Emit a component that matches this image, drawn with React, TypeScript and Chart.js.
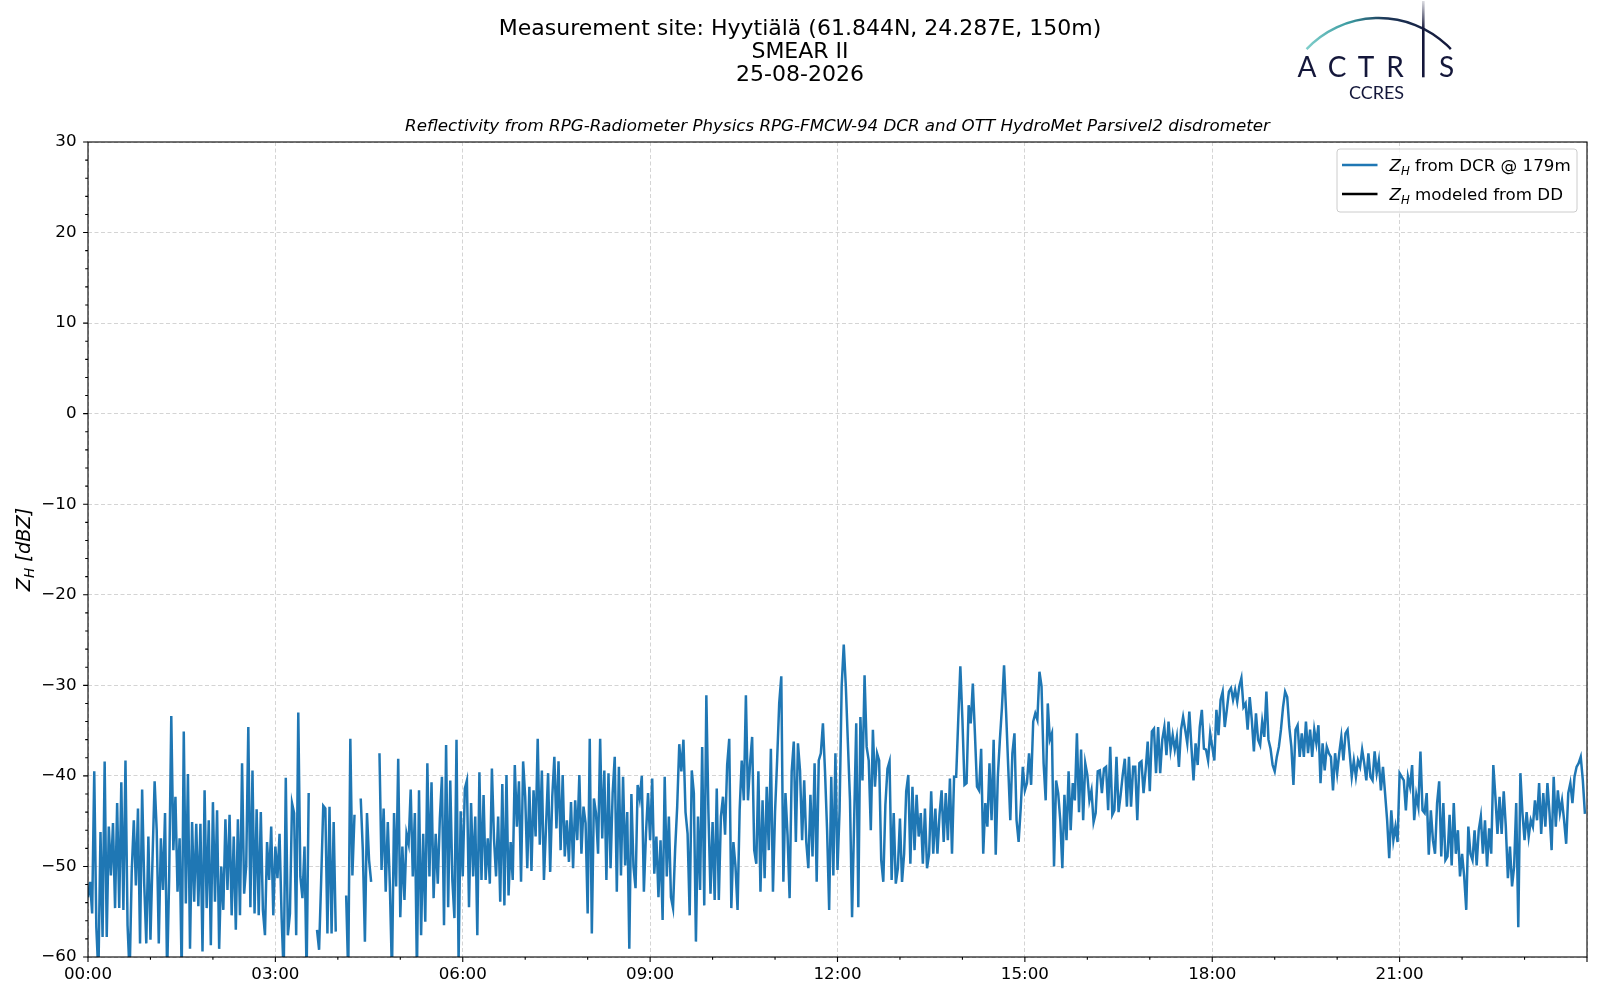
import React, { useEffect, useRef } from "react";
import Chart from "chart.js/auto";

// DCR reflectivity sampled every STEP_MIN minutes from 00:00 (null = no data)
const STEP_MIN = 2;

const xTickLabels = ["00:00", "03:00", "06:00", "09:00", "12:00", "15:00", "18:00", "21:00"];
const titleLines = ["Measurement site: Hyytiälä (61.844N, 24.287E, 150m)", "SMEAR II", "25-08-2026"];
const subtitle = "Reflectivity from RPG-Radiometer Physics RPG-FMCW-94 DCR and OTT HydroMet Parsivel2 disdrometer";
const legendLabels = [" from DCR @ 179m", " modeled from DD"];

const zhDcr0003 = [
  -53.4, -51.7, -55.2, -39.5, -56.7, -62, -46.2, -57.8, -38.4, -57.8, -45.6, -51.0, -45.2, -54.6, -43.0,
  -54.6, -40.7, -54.8, -38.3, -56.5, -62, -50.6, -44.9, -52.1, -43.6, -58.5, -41.5, -51.9, -58.5, -46.7,
  -58.1, -49.1, -40.6, -46.0, -58.5, -46.9, -52.6, -44.1, -62, -51.1, -33.4, -48.2, -42.3, -52.8, -46.9,
  -62, -35.1, -54.1, -39.8, -59.1, -45.1, -53.9, -45.3, -54.4, -45.3, -59.4, -41.6, -54.6, -44.9, -58.7,
  -42.9, -53.9, -43.8, -59.1, -50.0, -54.8, -44.8, -52.6, -44.3, -55.4, -46.7, -57.0, -44.8, -55.4, -38.6,
  -53.0, -49.9, -34.6, -54.5, -39.4, -55.2, -43.7, -55.4, -44.0, -54.8, -57.6, -47.3, -51.5, -45.6, -55.4,
];
const zhDcr0306 = [
  -47.8, -51.3, -46.4, -55.7, -62, -40.2, -57.6, -55.2, -43.0, -44.1, -57.6, -33.0, -51.1, -53.5, -47.8,
  -62, -41.9, null, null, null, -57.0, -59.2, -51.5, -43.3, -43.6, -57.4, -43.4, -57.4, -45.1, -57.2,
  null, null, null, null, -53.2, -62, -35.9, -51.0, -44.3, null, null, -42.5, -48.2, -58.3, -44.1,
  -49.3, -51.7, null, null, null, -37.5, -50.4, -43.6, -52.8, -45.1, -52.2, -62, -44.1, -52.2, -38.1,
  -55.6, -47.8, -53.7, -46.4, -47.5, -41.5, -51.1, -44.1, -62, -41.6, -57.6, -46.4, -56.1, -38.6, -51.1,
  -40.7, -53.5, -46.4, -51.9, -44.7, -40.1, -56.5, -36.6, -54.5, -40.5, -51.5, -55.7, -36.0, -60.5, -43.9,
];
const zhDcr0609 = [
  -51.1, -41.4, -40.5, -54.5, -43.0, -51.1, -44.5, -57.6, -39.6, -51.5, -42.1, -51.5, -46.9, -51.9, -39.2,
  -46.9, -51.1, -44.5, -53.9, -40.9, -54.3, -39.9, -53.2, -47.3, -51.5, -38.8, -45.6, -40.6, -51.7, -38.4,
  -42.3, -50.2, -41.2, -50.5, -41.6, -46.7, -35.9, -47.6, -39.4, -51.5, -45.6, -39.7, -50.6, -42.3, -37.9,
  -45.8, -38.4, -48.2, -39.9, -48.9, -44.9, -49.5, -42.9, -50.2, -42.7, -47.1, -39.9, -48.6, -43.4, -45.2,
  -55.2, -35.9, -57.4, -42.5, -44.1, -48.6, -35.9, -46.9, -39.4, -51.5, -39.7, -50.2, -41.9, -37.9, -52.8,
  -39.0, -51.0, -40.1, -49.9, -44.0, -59.1, -42.0, -50.0, -52.4, -41.0, -42.5, -40.0, -52.8, -46.4, -41.9,
];
const zhDcr0912 = [
  -47.1, -40.3, -50.8, -46.7, -53.4, -47.1, -55.9, -40.1, -51.1, -44.5, -53.4, -54.6, -48.2, -43.4, -36.5,
  -39.5, -36.0, -44.0, -46.4, -55.4, -39.4, -41.9, -58.3, -44.5, -52.6, -36.8, -54.3, -31.1, -44.0, -53.0,
  -45.1, -53.7, -41.4, -53.7, -44.5, -42.3, -46.5, -38.8, -35.9, -54.6, -47.3, -50.0, -54.8, -43.8, -38.3,
  -42.7, -31.1, -42.7, -38.6, -35.7, -48.2, -49.7, -39.5, -52.8, -42.7, -51.3, -41.2, -48.2, -37.0, -52.8,
  -44.0, -38.3, -32.0, -29.0, -51.7, -41.9, -46.5, -53.5, -39.5, -36.2, -47.3, -36.4, -39.4, -47.1, -40.5,
  -47.3, -50.2, -42.1, -48.9, -38.6, -51.7, -38.3, -37.5, -34.2, -39.5, -46.0, -54.8, -40.1, -51.0, -37.5,
];
const zhDcr1215 = [
  -50.4, -43.8, -30.1, -25.5, -30.1, -36.4, -42.7, -55.6, -44.9, -34.2, -54.5, -33.5, -40.5, -28.9, -36.8,
  -38.3, -46.0, -34.9, -41.2, -37.5, -38.3, -49.3, -51.7, -43.2, -39.2, -38.4, -51.5, -44.1, -51.9, -50.2,
  -44.7, -51.7, -48.6, -41.7, -39.9, -49.7, -41.2, -48.2, -42.1, -46.7, -44.1, -49.7, -43.6, -50.2, -48.6,
  -41.7, -48.6, -43.6, -48.6, -44.3, -41.6, -47.3, -41.9, -47.1, -40.3, -48.6, -40.1, -40.1, -33.8, -27.9,
  -33.8, -41.0, -40.8, -32.2, -34.2, -29.8, -35.3, -41.2, -41.6, -37.0, -48.6, -43.0, -45.6, -38.6, -44.9,
  -36.0, -48.7, -40.1, -36.0, -32.4, -27.8, -33.1, -39.0, -44.9, -37.5, -35.3, -44.9, -47.3, -43.6, -39.0,
];
const zhDcr1518 = [
  -41.6, -40.8, -37.5, -41.0, -34.0, -33.1, -33.8, -28.5, -30.1, -38.6, -42.7, -32.0, -36.0, -35.3, -50.0,
  -40.5, -41.9, -44.9, -50.2, -42.1, -47.1, -39.5, -46.0, -40.8, -42.7, -35.3, -44.0, -37.1, -44.9, -38.6,
  -39.9, -42.7, -41.6, -45.1, -44.1, -39.5, -39.4, -41.9, -39.2, -39.0, -43.8, -36.8, -44.3, -43.8, -37.9,
  -44.0, -42.1, -39.9, -38.1, -43.4, -37.9, -43.4, -39.0, -39.0, -44.9, -38.6, -38.4, -41.9, -39.4, -36.2,
  -41.7, -35.1, -34.8, -39.7, -34.6, -39.7, -36.0, -34.6, -37.7, -34.0, -37.1, -35.5, -37.1, -35.7, -39.0,
  -34.9, -33.5, -34.9, -36.4, -32.9, -36.8, -40.5, -36.4, -38.8, -34.6, -32.7, -37.0, -37.1, -38.3, -35.3,
];
const zhDcr1821 = [
  -36.8, -38.3, -32.7, -35.5, -31.6, -30.7, -34.6, -32.7, -30.7, -30.3, -31.6, -30.5, -31.8, -30.1, -29.2,
  -32.4, -32.0, -34.9, -31.3, -33.8, -37.3, -33.1, -36.0, -36.6, -34.0, -35.7, -30.7, -36.0, -37.0, -38.8,
  -39.5, -37.9, -36.8, -34.9, -32.4, -30.7, -31.3, -34.6, -36.8, -41.0, -34.9, -34.4, -37.9, -35.3, -37.9,
  -34.0, -37.5, -34.9, -37.9, -34.9, -36.4, -34.4, -40.8, -36.4, -39.4, -36.8, -37.5, -37.9, -41.6, -37.5,
  -39.7, -37.5, -35.7, -38.3, -35.3, -34.9, -37.5, -40.1, -38.3, -40.1, -38.3, -39.0, -37.1, -38.6, -40.5,
  -37.5, -40.1, -40.5, -37.3, -39.7, -38.3, -41.6, -39.0, -41.9, -44.9, -49.1, -43.8, -47.1, -45.6, -47.3,
];
const zhDcr2124 = [
  -39.7, -40.1, -40.5, -43.8, -40.1, -41.2, -38.8, -44.9, -42.1, -43.4, -37.3, -43.8, -44.1, -41.9, -48.7,
  -43.8, -47.1, -48.6, -43.0, -40.6, -48.9, -43.0, -49.3, -48.9, -44.3, -49.9, -43.0, -48.6, -46.0, -51.1,
  -48.6, -51.1, -54.8, -45.6, -48.6, -49.3, -46.0, -49.9, -46.0, -44.5, -48.6, -44.9, -50.0, -45.8, -48.6,
  -38.8, -42.3, -46.4, -42.3, -46.4, -41.7, -45.6, -51.3, -47.8, -52.2, -50.0, -43.0, -56.7, -39.7, -44.1,
  -47.1, -44.0, -46.7, -44.9, -45.6, -42.7, -44.9, -40.8, -46.4, -41.9, -45.6, -40.8, -44.1, -48.2, -40.1,
  -45.6, -41.6, -44.1, -42.7, -44.9, -47.5, -41.9, -40.8, -43.0, -40.1, -39.0, -38.6, -37.9, -40.5, -44.2,
];
// no disdrometer-modeled values on this day
const zhModeledDD: (number | null)[] = [];

const zhDcr = [
  ...zhDcr0003, ...zhDcr0306, ...zhDcr0609, ...zhDcr0912,
  ...zhDcr1215, ...zhDcr1518, ...zhDcr1821, ...zhDcr2124,
];

const FONT = "'DejaVu Sans', sans-serif";
const GRID = "#d4d4d4";
const BLUE = "#1f77b4";
const NAVY = "#14173a";

// draws the matplotlib-style frame, ticks, titles, labels, legend and logo
const decorPlugin = {
  id: "decor",
  afterDraw(chart: any) {
    const { ctx, chartArea: a } = chart;
    const xs = chart.scales.x;
    const ys = chart.scales.y;
    ctx.save();

    ctx.strokeStyle = "#000";
    ctx.lineWidth = 1.1;
    ctx.strokeRect(a.left, a.top, a.right - a.left, a.bottom - a.top);
    ctx.beginPath();
    xs.ticks.forEach((t: any) => {
      const px = xs.getPixelForValue(t.value);
      const len = t.value % 180 === 0 ? 4.9 : 2.8;
      ctx.moveTo(px, a.bottom);
      ctx.lineTo(px, a.bottom + len);
    });
    ys.ticks.forEach((t: any) => {
      const py = ys.getPixelForValue(t.value);
      const len = t.value % 10 === 0 ? 4.9 : 2.8;
      ctx.moveTo(a.left, py);
      ctx.lineTo(a.left - len, py);
    });
    ctx.stroke();

    // titles
    ctx.fillStyle = "#000";
    ctx.textAlign = "center";
    ctx.textBaseline = "middle";
    ctx.font = `22px ${FONT}`;
    titleLines.forEach((s, i) => ctx.fillText(s, 800, 29.5 + i * 22.8));
    ctx.font = `italic 16.7px ${FONT}`;
    ctx.fillText(subtitle, (a.left + a.right) / 2, 126.5);

    // y axis label  Z_H [dBZ]
    ctx.save();
    ctx.translate(22.5, (a.top + a.bottom) / 2);
    ctx.rotate(-Math.PI / 2);
    ctx.textAlign = "left";
    ctx.textBaseline = "alphabetic";
    ctx.font = `italic 19.4px ${FONT}`;
    const wZ = ctx.measureText("Z").width;
    const wRest = ctx.measureText(" [dBZ]").width;
    ctx.font = `italic 13.6px ${FONT}`;
    const wH = ctx.measureText("H").width;
    const x0 = -(wZ + wH + wRest) / 2;
    ctx.font = `italic 19.4px ${FONT}`;
    ctx.fillText("Z", x0, 7);
    ctx.font = `italic 13.6px ${FONT}`;
    ctx.fillText("H", x0 + wZ, 11);
    ctx.font = `italic 19.4px ${FONT}`;
    ctx.fillText(" [dBZ]", x0 + wZ + wH, 7);
    ctx.restore();

    // legend
    const lx = 1337, ly = 149, lw = 240, lh = 63;
    ctx.beginPath();
    ctx.roundRect(lx, ly, lw, lh, 3);
    ctx.fillStyle = "rgba(255,255,255,0.8)";
    ctx.fill();
    ctx.strokeStyle = "#cccccc";
    ctx.lineWidth = 1;
    ctx.stroke();
    chart.data.datasets.forEach((ds: any, i: number) => {
      const cy = ly + 16 + i * 29;
      ctx.strokeStyle = ds.borderColor;
      ctx.lineWidth = 2.5;
      ctx.beginPath();
      ctx.moveTo(lx + 5, cy);
      ctx.lineTo(lx + 40.5, cy);
      ctx.stroke();
      ctx.fillStyle = "#000";
      ctx.textAlign = "left";
      ctx.textBaseline = "alphabetic";
      let tx = lx + 52.5;
      ctx.font = `italic 16.7px ${FONT}`;
      ctx.fillText("Z", tx, cy + 6);
      tx += ctx.measureText("Z").width;
      ctx.font = `italic 11.7px ${FONT}`;
      ctx.fillText("H", tx, cy + 9.5);
      tx += ctx.measureText("H").width;
      ctx.font = `16.7px ${FONT}`;
      ctx.fillText(ds.label, tx, cy + 6);
    });

    // ACTRIS CCRES logo
    const grad = ctx.createLinearGradient(1306, 0, 1451, 0);
    grad.addColorStop(0, "#80cfcb");
    grad.addColorStop(0.3, "#3a9aa0");
    grad.addColorStop(0.55, "#1c3556");
    grad.addColorStop(1, NAVY);
    ctx.strokeStyle = grad;
    ctx.lineWidth = 2.4;
    ctx.beginPath();
    ctx.arc(1378.7, 117.1, 99.1, (-136.7 * Math.PI) / 180, (-43.3 * Math.PI) / 180);
    ctx.stroke();
    const vg = ctx.createLinearGradient(0, 1, 0, 30);
    vg.addColorStop(0, "rgba(20,23,58,0.15)");
    vg.addColorStop(1, NAVY);
    ctx.strokeStyle = vg;
    ctx.lineWidth = 2.6;
    ctx.beginPath();
    ctx.moveTo(1423.3, 1);
    ctx.lineTo(1423.3, 77.3);
    ctx.stroke();
    ctx.fillStyle = NAVY;
    ctx.textAlign = "center";
    ctx.textBaseline = "alphabetic";
    ctx.font = "28px Lato";
    [["A", 1307], ["C", 1337], ["T", 1366], ["R", 1395], ["S", 1446.5]].forEach(([ch, cx]) =>
      ctx.fillText(ch as string, cx as number, 77.3)
    );
    ctx.font = "18px Lato";
    ctx.fillText("CCRES", 1376.5, 99);

    ctx.restore();
  },
};

const App: React.FC = () => {
  const canvasRef = useRef<HTMLCanvasElement | null>(null);

  useEffect(() => {
    if (!canvasRef.current) return;

    const chart = new Chart(canvasRef.current, {
      type: "line",
      data: {
        datasets: [
          {
            label: legendLabels[0],
            data: zhDcr.map((v, i) => ({ x: i * STEP_MIN, y: v })),
            borderColor: BLUE,
            borderWidth: 2.5,
            pointRadius: 0,
            tension: 0,
            spanGaps: false,
          },
          {
            label: legendLabels[1],
            data: zhModeledDD.map((v, i) => ({ x: i * STEP_MIN, y: v })),
            borderColor: "#000000",
            borderWidth: 2.5,
            pointRadius: 0,
          },
        ],
      },
      options: {
        animation: false,
        responsive: false,
        devicePixelRatio: 1,
        events: [],
        layout: { padding: { top: 142, right: 13, bottom: 0, left: 0 } },
        plugins: {
          legend: { display: false },
          tooltip: { enabled: false },
          title: { display: false },
        },
        scales: {
          x: {
            type: "linear",
            min: 0,
            max: 1440,
            afterFit: (scale: any) => {
              scale.height = 43;
            },
            border: { display: false, dash: [4, 2.5] },
            grid: {
              drawTicks: false,
              color: (c: any) =>
                c.tick && c.tick.value % 180 === 0 ? GRID : "rgba(0,0,0,0)",
              lineWidth: 1,
            },
            ticks: {
              stepSize: 60,
              autoSkip: false,
              maxRotation: 0,
              padding: 7.5,
              color: "#000",
              font: { family: FONT, size: 16.7 },
              callback: (v: any) =>
                v % 180 === 0 && v < 1440 ? xTickLabels[v / 180] : "",
            },
          },
          y: {
            min: -60,
            max: 30,
            afterFit: (scale: any) => {
              scale.width = 88;
            },
            border: { display: false, dash: [4, 2.5] },
            grid: {
              drawTicks: false,
              color: (c: any) =>
                c.tick && c.tick.value % 10 === 0 ? GRID : "rgba(0,0,0,0)",
              lineWidth: 1,
            },
            ticks: {
              stepSize: 2,
              autoSkip: false,
              padding: 11.5,
              color: "#000",
              font: { family: FONT, size: 16.7 },
              callback: (v: any) =>
                v % 10 === 0 ? String(v).replace("-", "\u2212") : "",
            },
          },
        },
      },
      plugins: [decorPlugin],
    });

    return () => {
      chart.destroy();
    };
  }, []);

  return (
    <div style={{ position: "absolute", left: 0, top: 0, width: 1600, height: 1000, background: "#fff" }}>
      <canvas ref={canvasRef} width={1600} height={1000}></canvas>
    </div>
  );
};

export default App;
